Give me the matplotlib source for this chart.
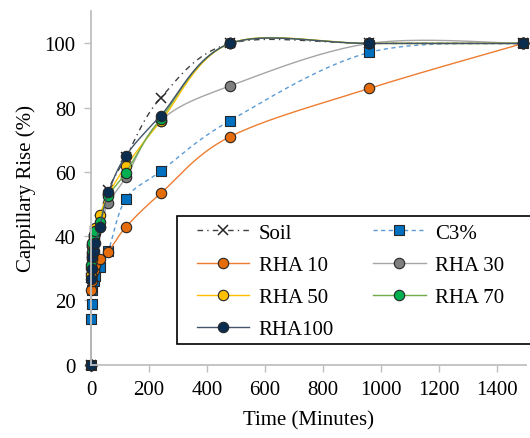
import numpy as np
import matplotlib as mpl
mpl.use("Agg")
import matplotlib.pyplot as plt
from matplotlib.patches import Rectangle

mpl.rcParams.update({
	"font.family": ["Liberation Serif", "DejaVu Serif"],
	"font.size": 15,
	"axes.labelsize": 15,
	"xtick.labelsize": 15,
	"ytick.labelsize": 15,
	"legend.fontsize": 15,
})

# Elapsed time (minutes) for each reading.
time_min = [0, 1, 2, 5, 10, 15, 30, 60, 120, 240, 480, 960, 1490]

# Capillary rise (%) per mix.
soil = [0, 27, 32, 36, 39, 41.5, 45, 54.5, 64.5, 83, 100, 100, 100]
c3 = [0, 14.2, 18.9, 23.2, 26, 27.7, 30.4, 35.5, 51.6, 60.2, 76, 97.2, 100]
rha10 = [0, 23.4, 26, 28, 29.5, 31, 33, 35.2, 42.8, 53.3, 71, 86, 100]
rha30 = [0, 30, 34, 37, 39.5, 41, 43, 50.3, 58.3, 76, 86.8, 100, 100]
rha50 = [0, 28, 33, 37, 40, 42.5, 46.5, 53, 61.7, 75.7, 100, 100, 100]
rha70 = [0, 31, 35, 38, 40.5, 41.7, 44.5, 52.5, 59.8, 76.5, 100, 100, 100]
rha100 = [0, 26.7, 29.8, 33.5, 35.5, 38, 42.8, 53.6, 65, 77.5, 100, 100, 100]

labels = ["Soil", "C3%", "RHA 10", "RHA 30", "RHA 50", "RHA 70", "RHA100"]


def smooth(x, y, n=40):
	# Bezier smoothing through every point, spreadsheet style.
	p = np.column_stack([x, y]).astype(float)
	pts = [p[0:1]]
	for i in range(len(p) - 1):
		p0 = p[i - 1] if i > 0 else p[i]
		p3 = p[i + 2] if i + 2 < len(p) else p[i + 1]
		c1 = p[i] + (p[i + 1] - p0) / 6.0
		c2 = p[i + 1] - (p3 - p[i]) / 6.0
		t = np.linspace(0, 1, n)[1:, None]
		seg = ((1 - t) ** 3 * p[i] + 3 * (1 - t) ** 2 * t * c1
			+ 3 * (1 - t) * t ** 2 * c2 + t ** 3 * p[i + 1])
		pts.append(seg)
	out = np.vstack(pts)
	return out[:, 0], out[:, 1]


styles = [
	# line colour, line style, marker, marker face
	("#404040", (0, (4, 3, 1, 3)), "x", "none"),
	("#5B9BD5", (0, (3, 2.5)), "s", "#0070C0"),
	("#ED7D31", "-", "o", "#E46C0A"),
	("#A5A5A5", "-", "o", "#7F7F7F"),
	("#FFC000", "-", "o", "#FFC000"),
	("#70AD47", "-", "o", "#00B050"),
	("#44546A", "-", "o", "#0B2D4F"),
]

fig = plt.figure(figsize=(5.30, 4.39), dpi=100)
ax = fig.add_axes([0.1717, 0.167, 0.8208, 0.805])

handles = []
for series, label, (lc, ls, mk, mf) in zip(
		[soil, c3, rha10, rha30, rha50, rha70, rha100], labels, styles):
	sx, sy = smooth(time_min, series)
	ax.plot(sx, sy, color=lc, linestyle=ls, linewidth=1.0, clip_on=False)
	if mk == "x":
		mkw = dict(marker="x", markersize=7, markeredgecolor="#262626",
			markeredgewidth=1.1)
	else:
		mkw = dict(marker=mk, markersize=7.5, markerfacecolor=mf,
			markeredgecolor="#262626", markeredgewidth=0.8)
	ax.plot(time_min, series, linestyle="none", clip_on=False, **mkw)
	h, = ax.plot([], [], color=lc, linestyle=ls, linewidth=1.0, **mkw)
	handles.append(h)

ax.set_xlim(0, 1500)
ax.set_ylim(0, 110)
ax.set_xticks(range(0, 1401, 200))
ax.set_yticks(range(0, 101, 20))
ax.set_xlabel("Time (Minutes)", labelpad=8)
ax.set_ylabel("Cappillary Rise (%)", labelpad=6)

for side in ("top", "right"):
	ax.spines[side].set_visible(False)
for side in ("left", "bottom"):
	ax.spines[side].set_color("#BFBFBF")
	ax.spines[side].set_linewidth(1.3)
ax.tick_params(axis="both", direction="out", length=5, width=1.0,
	color="#BFBFBF", pad=6)

# legend box runs off the right edge of the figure
W, H = 530.0, 439.0
fig.patches.append(Rectangle((177 / W, 1 - 345 / H), 380 / W, 128 / H,
	transform=fig.transFigure, facecolor="white", edgecolor="black",
	linewidth=1.2, zorder=5))

# column-major order gives rows Soil/C3%, RHA 10/RHA 30, ...
order = [0, 2, 4, 6, 1, 3, 5]
leg = fig.legend([handles[i] for i in order], [labels[i] for i in order],
	loc="upper left", bbox_to_anchor=(193 / W, 1 - 220 / H), ncol=2,
	frameon=False, handlelength=2.5, handletextpad=0.45,
	columnspacing=1.9, labelspacing=0.6, borderpad=0.2, borderaxespad=0)
leg.set_zorder(6)

fig.savefig("out.png", dpi=100)
